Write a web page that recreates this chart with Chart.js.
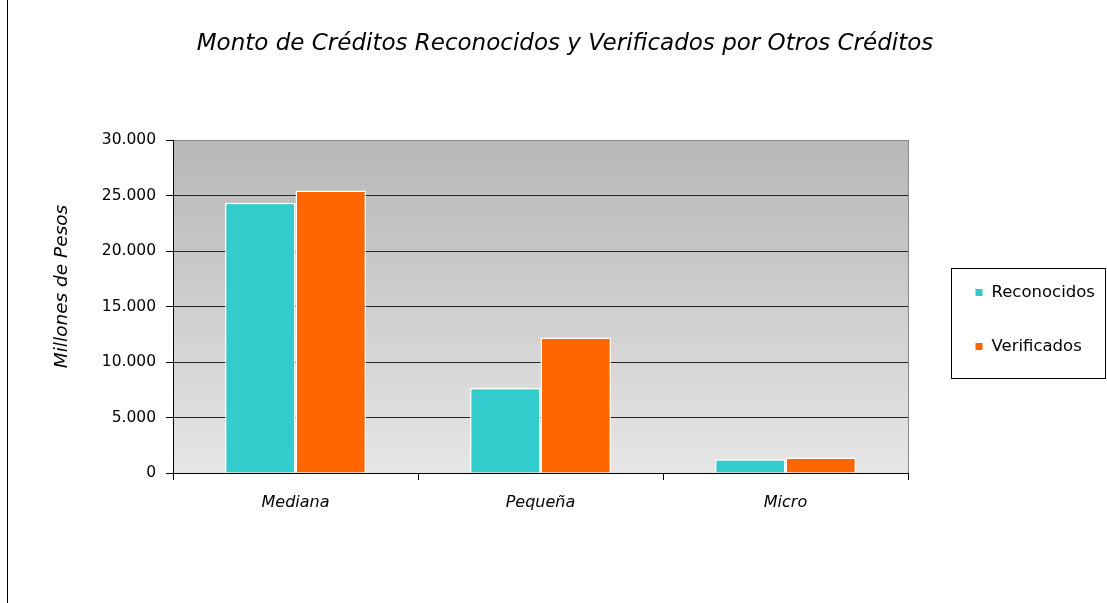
<!DOCTYPE html>
<html>
<head>
<meta charset="utf-8">
<script src="https://cdn.jsdelivr.net/npm/chart.js@4.4.1/dist/chart.umd.min.js"></script>
<style>
  body { margin: 0; background: #fff; }
  #wrap { position: relative; width: 1107px; height: 603px; }
  #pageLine { position: absolute; left: 7px; top: 0; width: 1px; height: 603px; background: #000; }
</style>
</head>
<body>
<div id="wrap">
  <div id="pageLine"></div>
  <canvas id="creditChart"></canvas>
</div>
<script>
const categories = ['Mediana', 'Pequeña', 'Micro'];
const reconocidos = [24350, 7650, 1250];
const verificados = [25450, 12200, 1400];
const yTicks = { min: 0, max: 30000, step: 5000 };
const chartTitle = 'Monto de Créditos Reconocidos y Verificados por Otros Créditos';
const yTitle = 'Millones de Pesos';

function formatMiles(v) {
  return v.toString().replace(/\B(?=(\d{3})+(?!\d))/g, '.');
}

// gray gradient behind the bars
const plotBackground = {
  id: 'plotBackground',
  beforeDraw(chart) {
    const { ctx, chartArea: a } = chart;
    const g = ctx.createLinearGradient(0, a.top, 0, a.bottom);
    g.addColorStop(0, '#b7b7b7');
    g.addColorStop(1, '#e6e6e6');
    ctx.save();
    ctx.fillStyle = g;
    ctx.fillRect(a.left, a.top, a.right - a.left, a.bottom - a.top);
    ctx.restore();
  }
};

// rotated axis title, sitting a bit above the middle like the original
const axisTitle = {
  id: 'axisTitle',
  afterDraw(chart) {
    const { ctx, chartArea: a } = chart;
    ctx.save();
    ctx.translate(62, (a.top + a.bottom) / 2 - 20);
    ctx.rotate(-Math.PI / 2);
    ctx.font = 'italic 18.5px "DejaVu Sans"';
    ctx.fillStyle = '#000';
    ctx.textAlign = 'center';
    ctx.textBaseline = 'middle';
    ctx.fillText(yTitle, 0, 0);
    ctx.restore();
  }
};

// boxed legend to the right of the plot
const boxLegend = {
  id: 'boxLegend',
  afterDraw(chart) {
    const { ctx, chartArea: a } = chart;
    const left = a.right + 43.5;
    ctx.save();
    ctx.strokeStyle = '#000';
    ctx.lineWidth = 1;
    ctx.strokeRect(left, 268.5, 154, 110);
    ctx.font = '16.5px "DejaVu Sans"';
    ctx.textBaseline = 'middle';
    const rows = [292.5, 346.5];
    chart.data.datasets.forEach((ds, i) => {
      ctx.fillStyle = ds.backgroundColor;
      ctx.fillRect(left + 24, rows[i] - 3.5, 7, 7);
      ctx.fillStyle = '#000';
      ctx.fillText(ds.label, left + 40, rows[i]);
    });
    ctx.restore();
  }
};

const ctx = document.getElementById('creditChart').getContext('2d');
new Chart(ctx, {
  type: 'bar',
  data: {
    labels: categories,
    datasets: [{
      label: 'Reconocidos',
      data: reconocidos,
      backgroundColor: '#33cccc',
      borderColor: '#ffffff',
      borderWidth: 1.5
    }, {
      label: 'Verificados',
      data: verificados,
      backgroundColor: '#ff6600',
      borderColor: '#ffffff',
      borderWidth: 1.5
    }]
  },
  options: {
    responsive: true,
    maintainAspectRatio: false,
    animation: false,
    layout: { padding: { left: 23, right: 0, top: 0, bottom: 0 } },
    datasets: {
      bar: { barPercentage: 1, categoryPercentage: 0.576 }
    },
    plugins: {
      legend: { display: false },
      tooltip: { enabled: false },
      title: {
        display: true,
        text: chartTitle,
        color: '#000',
        font: { family: 'DejaVu Sans', size: 23, style: 'italic', weight: 'normal' },
        padding: { top: 30, bottom: 82.4 }
      }
    },
    scales: {
      x: {
        offset: true,
        grid: {
          offset: true,
          drawOnChartArea: true,
          color: c => (c.index === undefined ? '#888888' : 'rgba(0,0,0,0)'),
          tickColor: '#000',
          tickLength: 7
        },
        border: { color: '#000', width: 1 },
        ticks: {
          color: '#000',
          padding: 13,
          font: { family: 'DejaVu Sans', size: 16, style: 'italic' }
        },
        afterFit(scale) { scale.height = 130; }
      },
      y: {
        min: yTicks.min,
        max: yTicks.max,
        grid: {
          color: c => (c.tick && c.tick.value === yTicks.max ? '#888888' : '#262626'),
          tickColor: '#000',
          tickLength: 7
        },
        border: { color: '#000', width: 1 },
        ticks: {
          stepSize: yTicks.step,
          color: '#000',
          padding: 10,
          font: { family: 'DejaVu Sans', size: 15.5 },
          callback: v => formatMiles(v)
        },
        afterFit(scale) { scale.width = 150; }
      },
      legendSpace: {
        type: 'linear',
        position: 'right',
        display: true,
        grid: { display: false },
        border: { display: false },
        ticks: { display: false },
        afterFit(scale) { scale.width = 199; }
      }
    }
  },
  plugins: [plotBackground, axisTitle, boxLegend]
});
</script>
</body>
</html>
